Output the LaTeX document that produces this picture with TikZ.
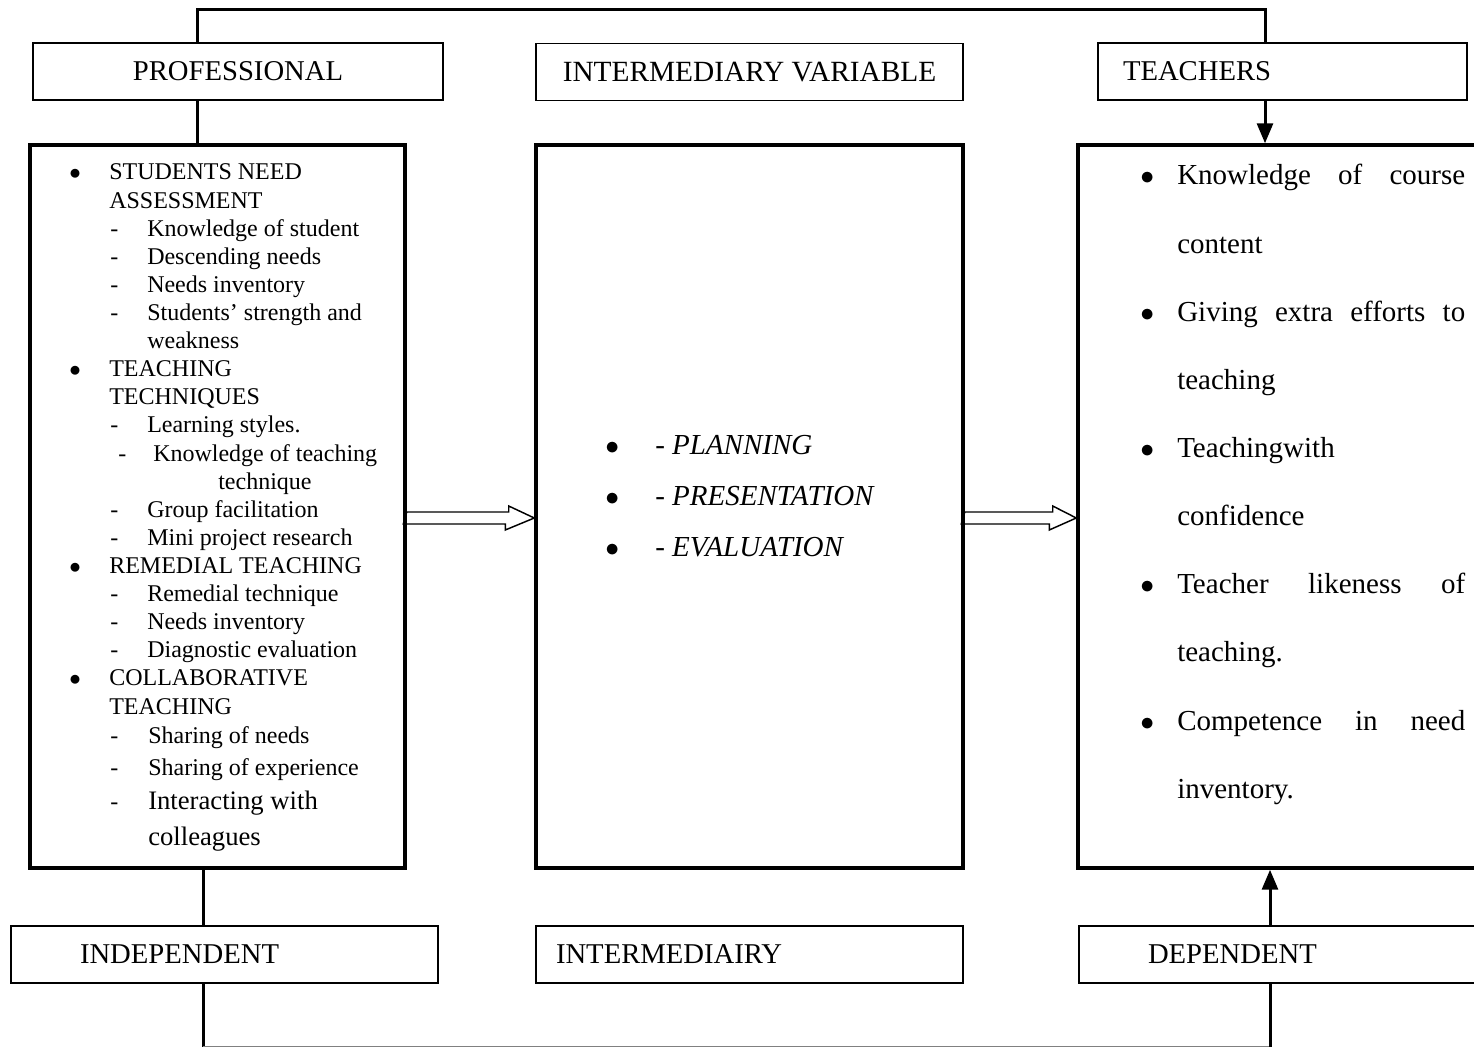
\documentclass[tikz,border=0pt]{standalone}
\usepackage{fontspec}
\setmainfont{Liberation Serif}
\usetikzlibrary{arrows.meta, calc}
\newdimen\pxu \pxu=0.75pt

\begin{document}
\begin{tikzpicture}[x=0.75pt, y=-0.75pt,
    lab/.style={draw, line width=1.1pt, minimum height=57\pxu, inner ysep=2pt, font=\fontsize{21.5}{25}\selectfont},
    bigbox/.style={draw, line width=2.6pt, minimum height=723\pxu},
    conn/.style={line width=2.25pt},
    headconn/.style={conn, -{Triangle[length=15pt, width=12pt]}},
    hollow/.style={line width=1.1pt, line join=miter}]
    \useasboundingbox (0,0) rectangle (1474,1048);
    \clip (0,0) rectangle (1474,1048);
    % variable labels, top row
    \node[lab, minimum width=410\pxu] (prof) at (238,71.5) {PROFESSIONAL};
    \node[lab, minimum width=427\pxu, font=\fontsize{22}{26}\selectfont] (intvar) at (749.5,72) {INTERMEDIARY VARIABLE};
    \node[lab, text width=319\pxu, inner xsep=25\pxu, align=left] (teach) at (1282.5,71.5) {TEACHERS};
    % the three big boxes
    \node[bigbox, minimum width=375\pxu] (lbox) at (217.5,506.5) {};
    \node[bigbox, minimum width=427\pxu] (mbox) at (749.5,506.5) {};
    \node[bigbox, minimum width=422\pxu] (rbox) at (1289,506.5) {};
    % variable labels, bottom row
    \node[lab, text width=289\pxu, inner xsep=69\pxu, align=left] (indep) at (224.5,954.5) {INDEPENDENT};
    \node[lab, text width=387\pxu, inner xsep=20\pxu, align=left] (interm) at (749.5,954.5) {INTERMEDIAIRY};
    \node[lab, text width=283\pxu, inner xsep=69\pxu, align=left] (dep) at (1289.5,954.5) {DEPENDENT};
    % independent variables
    \node[anchor=base west, inner sep=0, text width=320\pxu, align=left, font=\fontsize{18}{21.08}\selectfont] (ltext) at (69,180) {%
        \spaceskip=0pt \xspaceskip=0pt
        \makebox[40\pxu][l]{$\bullet$}STUDENTS NEED\\
        \hspace*{40\pxu}ASSESSMENT\\
        \hspace*{41\pxu}\makebox[37\pxu][l]{-}Knowledge of student\\
        \hspace*{41\pxu}\makebox[37\pxu][l]{-}Descending needs\\
        \hspace*{41\pxu}\makebox[37\pxu][l]{-}Needs inventory\\
        \hspace*{41\pxu}\makebox[37\pxu][l]{-}Students' strength and\\
        \hspace*{78\pxu}weakness\\
        \makebox[40\pxu][l]{$\bullet$}TEACHING\\
        \hspace*{40\pxu}TECHNIQUES\\
        \hspace*{41\pxu}\makebox[37\pxu][l]{-}Learning styles.\\
        \hspace*{49\pxu}\makebox[35\pxu][l]{-}Knowledge of teaching\\
        \hspace*{149\pxu}technique\\
        \hspace*{41\pxu}\makebox[37\pxu][l]{-}Group facilitation\\
        \hspace*{41\pxu}\makebox[37\pxu][l]{-}Mini project research\\
        \makebox[40\pxu][l]{$\bullet$}REMEDIAL TEACHING\\
        \hspace*{41\pxu}\makebox[37\pxu][l]{-}Remedial technique\\
        \hspace*{41\pxu}\makebox[37\pxu][l]{-}Needs inventory\\
        \hspace*{41\pxu}\makebox[37\pxu][l]{-}Diagnostic evaluation\\
        \makebox[40\pxu][l]{$\bullet$}COLLABORATIVE\\
        \hspace*{40\pxu}TEACHING\\[0.7pt]
        \hspace*{41\pxu}\makebox[38\pxu][l]{-}Sharing of needs\\[2.9pt]
        \hspace*{41\pxu}\makebox[38\pxu][l]{-}Sharing of experience\\[4.4pt]
        \hspace*{41\pxu}\makebox[38\pxu][l]{-}{\fontsize{20}{21.08}\selectfont Interacting with}\\[6.5pt]
        \hspace*{79\pxu}{\fontsize{20}{21.08}\selectfont colleagues}};
    % intermediary variables
    \node[anchor=base west, inner sep=0, text width=300\pxu, align=left, font=\fontsize{21.75}{38.25}\selectfont] (mtext) at (605,455) {%
        \spaceskip=0pt \xspaceskip=0pt
        \makebox[50\pxu][l]{$\bullet$}\textit{- PLANNING}\\
        \makebox[50\pxu][l]{$\bullet$}\textit{- PRESENTATION}\\
        \makebox[50\pxu][l]{$\bullet$}\textit{- EVALUATION}};
    % dependent variables
    \node[anchor=base west, inner sep=0, text width=325\pxu, align=left, font=\fontsize{21.75}{51.1}\selectfont] (rtext) at (1140,185) {%
        \spaceskip=0pt \xspaceskip=0pt
        \makebox[37\pxu][l]{$\bullet$}\makebox[288\pxu][s]{Knowledge\hfill of\hfill course}\\
        \hspace*{37\pxu}content\\
        \makebox[37\pxu][l]{$\bullet$}\makebox[288\pxu][s]{Giving\hfill extra\hfill efforts\hfill to}\\
        \hspace*{37\pxu}teaching\\
        \makebox[37\pxu][l]{$\bullet$}Teachingwith\\
        \hspace*{37\pxu}confidence\\
        \makebox[37\pxu][l]{$\bullet$}\makebox[288\pxu][s]{Teacher\hfill likeness\hfill of}\\
        \hspace*{37\pxu}teaching.\\
        \makebox[37\pxu][l]{$\bullet$}\makebox[288\pxu][s]{Competence\hfill in\hfill need}\\
        \hspace*{37\pxu}inventory.};
    % frame lines
    \coordinate (tl) at (197,10);
    \coordinate (tr) at (1265,10);
    \coordinate (bl) at (203,1046.5);
    \coordinate (br) at (1270,1046.5);
    \draw[conn] (prof.north -| tl) -- (tl) -- (tr) -- (teach.north -| tr);
    \draw[conn] (prof.south -| tl) -- (lbox.north -| tl);
    \draw[headconn] (teach.south -| tr) -- (rbox.north -| tr);
    \draw[conn] (lbox.south -| bl) -- (indep.north -| bl);
    \draw[conn] (indep.south -| bl) -- (bl);
    \draw[gray, line width=1pt] (bl) -- (br);
    \draw[conn] (br) -- (dep.south -| br);
    \draw[headconn] (dep.north -| br) -- (rbox.south -| br);
    % hollow arrows between the boxes
    \coordinate (ar) at (0,518);
    \draw[hollow] (lbox.east |- ar) ++(0,-6) -- ++(102,0) -- ++(0,-6) -- (mbox.west |- ar)
        -- ++(-29,12) -- ++(0,-6) -- ++(-102,0) -- cycle;
    \draw[hollow] (mbox.east |- ar) ++(0,-6) -- ++(88,0) -- ++(0,-6) -- (rbox.west |- ar)
        -- ++(-27,12) -- ++(0,-6) -- ++(-88,0) -- cycle;
\end{tikzpicture}
\end{document}
